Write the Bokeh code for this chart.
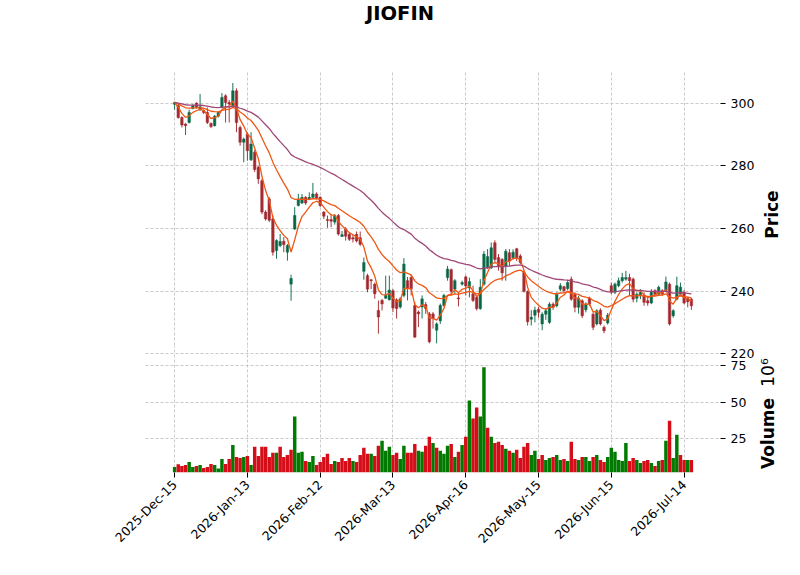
import numpy as np
import pandas as pd
from bokeh.plotting import figure
from bokeh.layouts import column, row
from bokeh.models import (Range1d, FixedTicker, ColumnDataSource, Div, Label,
                          CustomJSTickFormatter)
from bokeh.embed import file_html
from bokeh.resources import INLINE

# ---------------- data ----------------
opens = [299.6,299.2,295.4,293.3,293.8,298.3,300.0,298.0,297.6,297.0,
         293.5,292.8,295.8,298.6,302.3,300.2,299.2,303.9,292.2,287.5,
         290.1,281.9,284.3,279.5,275.2,265.2,269.4,263.0,252.9,254.5,
         255.9,252.4,242.2,259.8,267.3,268.1,269.9,269.4,269.9,271.0,
         269.9,265.2,262.8,262.8,262.0,264.1,257.4,259.8,258.1,257.0,
         258.1,257.0,246.3,244.9,243.6,242.2,233.8,237.0,237.7,237.2,
         240.1,237.2,234.9,238.6,243.3,244.3,235.4,233.3,234.9,235.7,
         232.7,232.7,227.5,230.5,235.4,244.3,246.8,240.6,237.8,242.2,
         244.5,241.0,239.1,238.0,234.4,242.2,247.5,247.4,255.4,250.7,
         250.1,247.9,252.2,250.6,253.5,251.2,246.0,239.8,231.0,232.3,
         234.2,229.5,232.6,230.0,235.8,235.3,240.6,241.4,240.8,243.8,
         239.0,234.8,236.9,234.0,237.7,232.6,229.5,233.9,228.4,229.8,
         241.7,239.6,241.7,243.3,243.8,244.3,243.8,237.7,238.5,238.5,
         236.9,236.2,240.1,239.0,240.1,240.1,242.2,232.1,237.4,239.0,
         239.6,237.7,237.4]
highs = [300.4,299.7,295.8,293.6,297.9,299.6,300.2,302.9,298.0,298.6,
         293.8,296.2,297.4,303.2,302.8,301.0,306.4,304.7,292.8,289.0,
         290.7,290.7,285.0,280.0,275.8,265.8,270.0,264.1,256.5,258.2,
         257.2,255.0,245.2,266.8,271.0,271.0,270.3,271.5,274.5,271.5,
         270.2,265.5,264.1,264.6,264.5,264.6,259.2,260.4,258.8,258.1,
         259.0,259.0,250.7,245.5,243.8,242.7,237.0,237.5,244.9,244.9,
         240.6,237.7,238.0,250.5,244.5,245.2,236.5,233.8,238.6,236.5,
         233.3,233.3,230.0,236.0,239.1,248.0,247.2,243.8,239.6,243.3,
         245.0,244.3,241.7,238.6,243.8,252.8,253.4,255.5,256.2,251.8,
         250.5,253.4,253.4,253.3,253.8,251.8,246.5,240.2,233.9,235.0,
         235.0,233.2,234.5,236.4,236.4,239.6,242.5,241.7,243.5,244.6,
         239.6,238.5,237.4,236.4,238.2,233.2,234.2,234.5,229.0,233.0,
         242.7,242.7,244.3,245.8,246.4,245.5,244.3,239.6,240.6,239.6,
         238.5,240.6,240.6,241.7,240.6,244.6,242.7,234.2,244.6,242.7,
         240.3,238.2,237.8]
lows = [297.9,295.0,292.2,289.8,293.5,298.0,298.3,297.5,296.5,293.3,
        292.0,292.5,295.4,298.3,293.8,293.8,298.6,290.7,286.4,281.1,
        281.6,281.5,278.0,274.2,264.5,262.5,262.0,251.3,250.3,254.0,
        252.4,249.7,236.9,259.5,267.0,267.8,267.5,269.0,269.6,269.2,
        266.8,263.0,260.2,260.4,261.2,257.7,257.3,256.1,256.0,255.5,
        255.5,254.4,243.6,239.6,240.6,237.5,226.4,233.8,237.5,237.0,
        233.3,231.2,234.4,238.0,237.0,238.6,225.0,228.5,231.2,232.7,
        223.3,228.0,223.3,229.5,235.0,243.3,239.1,239.1,235.1,241.7,
        238.6,238.0,236.5,233.8,234.0,241.7,247.0,247.0,249.1,246.5,
        243.3,243.3,248.0,250.0,249.6,248.5,239.5,229.0,229.0,230.0,
        231.5,227.5,230.8,229.5,234.0,234.8,240.0,239.6,240.3,236.9,
        233.2,232.8,231.4,233.2,235.3,227.5,229.0,229.0,226.5,229.3,
        239.0,239.0,241.2,242.7,243.3,238.5,236.4,236.4,237.4,235.3,
        235.3,235.8,238.5,238.5,238.5,239.6,229.0,231.5,237.0,238.5,
        235.8,234.8,234.0]
closes = [300.2,295.4,293.0,292.8,297.0,299.2,298.6,298.8,297.0,293.8,
          292.5,295.8,297.0,301.8,300.2,299.7,303.9,293.8,287.5,288.5,
          284.8,286.9,278.8,275.8,265.2,263.0,262.6,252.4,256.1,255.8,
          254.8,254.5,244.0,264.1,269.4,269.9,268.1,269.9,271.0,269.6,
          267.3,263.9,262.5,262.3,264.1,258.2,258.0,257.5,256.5,256.6,
          256.0,254.9,249.1,240.6,243.3,239.1,231.7,235.9,238.6,240.3,
          234.6,234.4,237.5,248.6,240.9,240.6,225.3,232.7,237.5,234.4,
          223.8,231.2,229.5,235.4,238.6,247.0,239.9,243.3,237.5,242.7,
          241.6,243.0,237.0,234.4,241.2,251.8,251.0,253.8,250.1,248.0,
          245.8,252.7,249.6,252.4,250.6,249.1,239.9,230.2,231.6,233.9,
          233.2,232.6,233.7,235.8,234.8,239.0,241.7,240.1,242.7,237.4,
          234.8,237.7,232.1,235.8,235.8,228.4,233.7,229.5,227.3,232.3,
          239.6,242.2,243.3,244.3,244.3,243.3,237.4,239.0,239.6,236.4,
          236.2,239.6,239.0,241.2,239.0,242.9,229.5,233.7,241.7,241.2,
          236.2,236.6,235.3]
volume_m = [5.0,6.9,5.7,6.4,8.5,5.0,5.7,6.4,4.3,5.0,
            7.1,6.4,4.0,10.6,7.1,10.6,20.3,12.0,11.3,12.0,
            12.7,6.4,19.0,12.7,19.0,19.0,12.0,14.8,14.8,19.0,
            12.0,13.4,16.9,39.9,14.8,15.5,9.2,8.5,12.7,6.4,
            8.5,12.0,14.1,7.1,9.2,8.5,11.3,9.2,11.3,9.2,
            8.5,13.4,18.3,14.1,14.1,12.7,19.7,23.1,16.2,19.0,
            13.4,14.8,10.6,19.7,14.8,14.8,21.0,16.2,15.5,19.7,
            25.9,21.7,18.3,16.2,14.1,19.7,21.0,12.0,15.5,20.3,
            25.9,51.0,38.5,46.2,39.9,74.1,32.2,25.9,21.7,22.4,
            20.3,17.6,16.2,14.8,16.9,11.3,19.0,21.7,13.4,16.2,
            10.6,13.4,9.9,11.3,12.0,13.4,9.9,10.6,9.2,22.4,
            10.6,9.9,12.0,12.0,9.2,12.0,13.4,9.9,8.5,12.0,
            18.3,15.5,9.9,9.2,21.7,9.2,11.3,9.9,7.8,9.2,
            9.9,7.8,5.7,9.2,9.9,23.1,37.1,11.3,27.3,13.4,
            9.9,9.9,9.9]
ema_spans = [5, 20, 50]
tick_positions = [0, 20, 40, 60, 80, 100, 120, 140]
tick_labels = ["2025-Dec-15", "2026-Jan-13", "2026-Feb-12", "2026-Mar-13",
               "2026-Apr-16", "2026-May-15", "2026-Jun-15", "2026-Jul-14"]
price_ticks = [220, 240, 260, 280, 300]
volume_ticks = [25, 50, 75]

# ---------------- layout (page pixels) ----------------
W, H = 800, 575
TITLE_H = 24
FL, FR, FT, FB = 145, 720, 70, 472      # frame edges on the page
AXIS_W = 37                              # room taken by the right tick labels
MAIN_W = FR + AXIS_W                     # chart canvases; axis titles to the right
SPLIT = 356                              # price / volume panel boundary
CUT = 345                                # where the two chart canvases meet
X0, X1 = -8, 150
P_LO, P_HI = 219.1, 310.4                # price panel range (FT..SPLIT)
V_LO, V_HI = 1.2, 81.5                   # volume panel range (SPLIT..FB)

ppy = (SPLIT - FT) / (P_HI - P_LO)
vpy = (FB - SPLIT) / (V_HI - V_LO)
p_lo_cut = P_HI - (CUT - FT) / ppy       # price at the canvas cut
v_hi_cut = V_HI + (SPLIT - CUT) / vpy    # volume units at the canvas cut


def price_in_vol_units(pr):
    return V_HI + (pr - P_LO) * ppy / vpy


# ---------------- style ----------------
FONT = "DejaVu Sans"
UP, DOWN = "#006340", "#a02128"
VUP, VDOWN = "#007a00", "#d50d18"
MAVC = ["#ef5714", "#ef5714", "#9f4878"]
GRID = "#bdbdbd"

n = len(closes)
idx = list(range(n))
ccol = [UP if c >= o else DOWN for o, c in zip(opens, closes)]
vcol = [VUP] + [VUP if closes[i] >= closes[i - 1] else VDOWN for i in range(1, n)]

src = ColumnDataSource(dict(
    x=idx, o=opens, h=highs, l=lows, c=closes,
    top=[max(o, c) for o, c in zip(opens, closes)],
    bot=[min(o, c) for o, c in zip(opens, closes)],
    col=ccol, vol=volume_m, vcol=vcol))

xr = Range1d(X0, X1)

title = Div(text="JIOFIN", width=W, height=TITLE_H,
            styles={"text-align": "center", "font-family": FONT,
                    "font-size": "19.5px", "font-weight": "bold",
                    "color": "black", "margin": "0", "padding": "0"})

p1 = figure(width=MAIN_W, height=CUT - TITLE_H, x_range=xr,
            y_range=Range1d(p_lo_cut, P_HI),
            output_backend="svg", toolbar_location=None, y_axis_location="right",
            min_border_left=FL, min_border_right=AXIS_W,
            min_border_top=FT - TITLE_H, min_border_bottom=0)
p1.xaxis.visible = False
p1.segment(x0="x", y0="l", x1="x", y1="h", source=src, color="col",
           line_width=1, alpha=0.9)
p1.vbar(x="x", top="top", bottom="bot", width=0.7, source=src,
        fill_color="col", line_color="col", line_width=0.5, alpha=0.9)
for span, colr in zip(ema_spans, MAVC):
    ema = pd.Series(closes).ewm(span=span, adjust=False).mean().values
    p1.line(idx, ema, line_color=colr, line_width=1.3)

p2 = figure(width=MAIN_W, height=H - CUT, x_range=xr, y_range=Range1d(V_LO, v_hi_cut),
            output_backend="svg", toolbar_location=None, y_axis_location="right",
            min_border_left=FL, min_border_right=AXIS_W, min_border_top=0,
            min_border_bottom=H - FB)
p2.vbar(x="x", top="vol", bottom=0, width=0.95, source=src,
        fill_color="vcol", line_color=None)
p2.xaxis.major_label_overrides = {t: s for t, s in zip(tick_positions, tick_labels)}
p2.xaxis.major_label_orientation = np.pi / 4

# price ticks that fall below the canvas cut are drawn by the lower canvas
p1_ticks = [t for t in price_ticks if t > p_lo_cut]
low_price = [t for t in price_ticks if t <= p_lo_cut]
p2_ticks = volume_ticks + [price_in_vol_units(t) for t in low_price]
p2.yaxis.formatter = CustomJSTickFormatter(
    args=dict(vhi=V_HI, plo=P_LO, r=vpy / ppy),
    code="if (tick > vhi) { return (plo + (tick - vhi) * r).toFixed(0); }"
         " return tick.toFixed(0);")

for p, ticks in ((p1, p1_ticks), (p2, p2_ticks)):
    p.outline_line_color = None
    p.background_fill_color = "white"
    p.xaxis.ticker = FixedTicker(ticks=tick_positions)
    p.yaxis.ticker = FixedTicker(ticks=ticks)
    p.ygrid.ticker = FixedTicker(ticks=ticks)
    for g in (p.xgrid, p.ygrid):
        g.grid_line_color = GRID
        g.grid_line_dash = "3 2"
        g.grid_line_width = 0.8
    for ax in (p.xaxis + p.yaxis):
        ax.axis_line_color = None
        ax.major_tick_line_color = "black"
        ax.major_tick_out = 5
        ax.major_tick_in = 0
        ax.minor_tick_line_color = None
        ax.major_label_text_font = FONT
        ax.major_label_text_font_size = "12.5px"
        ax.major_label_text_color = "black"
    p.yaxis.major_label_standoff = 5

# column of axis titles to the right of the tick labels (page coordinates)
q = figure(width=W - MAIN_W, height=H - TITLE_H,
           x_range=Range1d(MAIN_W, W), y_range=Range1d(0, H - TITLE_H),
           output_backend="svg", toolbar_location=None,
           x_axis_location=None, y_axis_location=None,
           min_border_left=0, min_border_right=0, min_border_top=0,
           min_border_bottom=0)
q.outline_line_color = None
q.background_fill_color = "white"
q.xgrid.visible = False
q.ygrid.visible = False


def axis_title(text, px, py, bold=True):
    q.add_layout(Label(x=px, y=H - py, text=text, angle=np.pi / 2,
                       text_align="center", text_baseline="middle",
                       text_font=FONT, text_font_size="17px",
                       text_color="black",
                       text_font_style="bold" if bold else "normal"))


axis_title("Price", 771, 214)
axis_title("Volume", 767, 433)
axis_title("10\u2076", 767, 372, bold=False)

layout = column(title, row(column(p1, p2, spacing=0), q, spacing=0), spacing=0)
open("out.html", "w").write(file_html(layout, INLINE))
